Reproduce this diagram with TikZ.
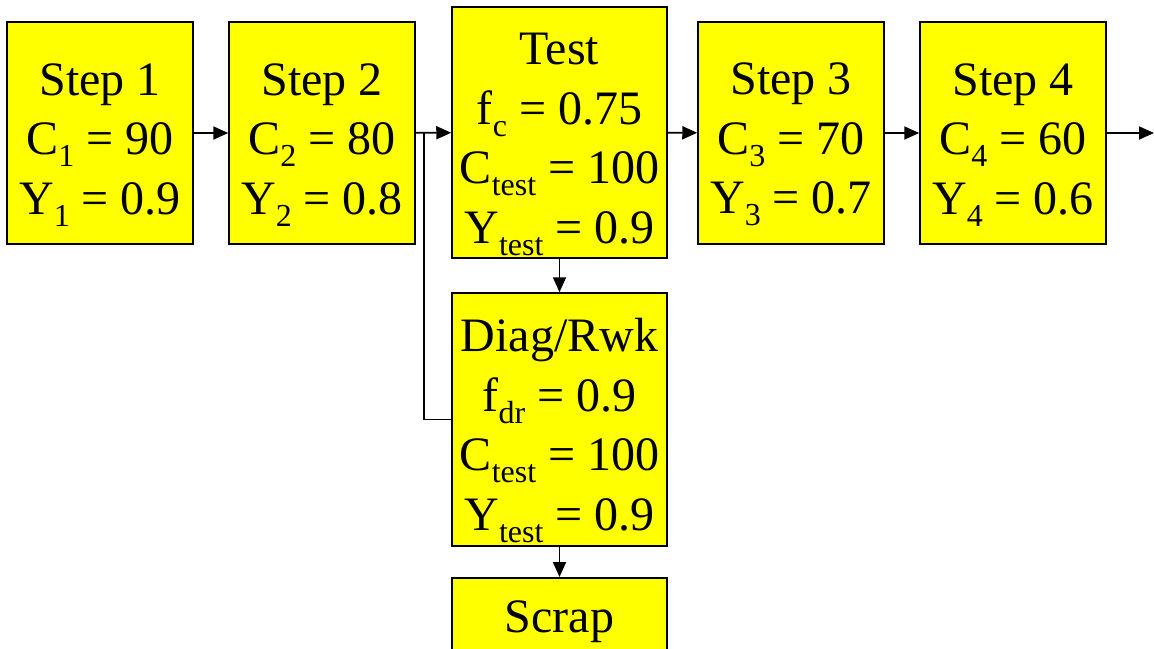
\documentclass[tikz,border=0pt]{standalone}
\usepackage{fontspec}
\setmainfont{Liberation Serif}
\usetikzlibrary{arrows.meta}
\definecolor{boxfill}{HTML}{FFFF00}
% lowered, smaller subscript as in the slide text
\newcommand{\sbx}[1]{\raisebox{-0.25em}{\fontsize{32}{32}\selectfont #1}}
% tall strut on the first line pushes each text block a little lower
\newcommand{\toprow}{\rule{0pt}{55pt}}
\begin{document}
\begin{tikzpicture}[x=1pt,y=-1pt,
  stagebox/.style={draw=black, line width=1.5pt, fill=boxfill, inner sep=0pt,
    align=center, font=\fontsize{48}{59.5}\selectfont},
  narrowbox/.style={stagebox, minimum width=186pt, minimum height=222pt},
  widebox/.style={stagebox, minimum width=215pt},
  flow/.style={line width=1.8pt, -{Triangle[length=15pt,width=13pt]}},
  feed/.style={line width=1.8pt}]
\useasboundingbox (0,0) rectangle (1154,648);
\clip (0,0) rectangle (1154,648);

% process steps along the main line
\node[narrowbox] (s1) at (100,133) {\toprow Step 1\\C\sbx{1} = 90\\Y\sbx{1} = 0.9};
\node[narrowbox] (s2) at (322,133) {\toprow Step 2\\C\sbx{2} = 80\\Y\sbx{2} = 0.8};
\node[widebox, minimum height=251pt] (test) at (559.5,132.5)
  {\toprow Test\\f\sbx{c} = 0.75\\C\sbx{test} = 100\\Y\sbx{test} = 0.9};
\node[narrowbox] (s3) at (791,133) {\toprow Step 3\\C\sbx{3} = 70\\Y\sbx{3} = 0.7};
\node[narrowbox] (s4) at (1013,133) {\toprow Step 4\\C\sbx{4} = 60\\Y\sbx{4} = 0.6};

% diagnosis / rework branch and scrap
\node[widebox, minimum height=253pt] (diag) at (559.5,419.5)
  {\toprow Diag/Rwk\\f\sbx{dr} = 0.9\\C\sbx{test} = 100\\Y\sbx{test} = 0.9};
\node[widebox, anchor=north, inner ysep=23pt] (scrap) at (559.5,577) {Scrap};

\coordinate (out) at (1154,133);
\coordinate (join) at (424,133);

% connectors
\draw[flow] (s1) -- (s2);
\draw[flow] (s2) -- (test);
\draw[flow] (test) -- (s3);
\draw[flow] (s3) -- (s4);
\draw[flow] (s4) -- (out);
\draw[flow] (test) -- (diag);
\draw[flow] (diag) -- (scrap);
\draw[feed] (diag.west) -| (join);
\end{tikzpicture}
\end{document}
